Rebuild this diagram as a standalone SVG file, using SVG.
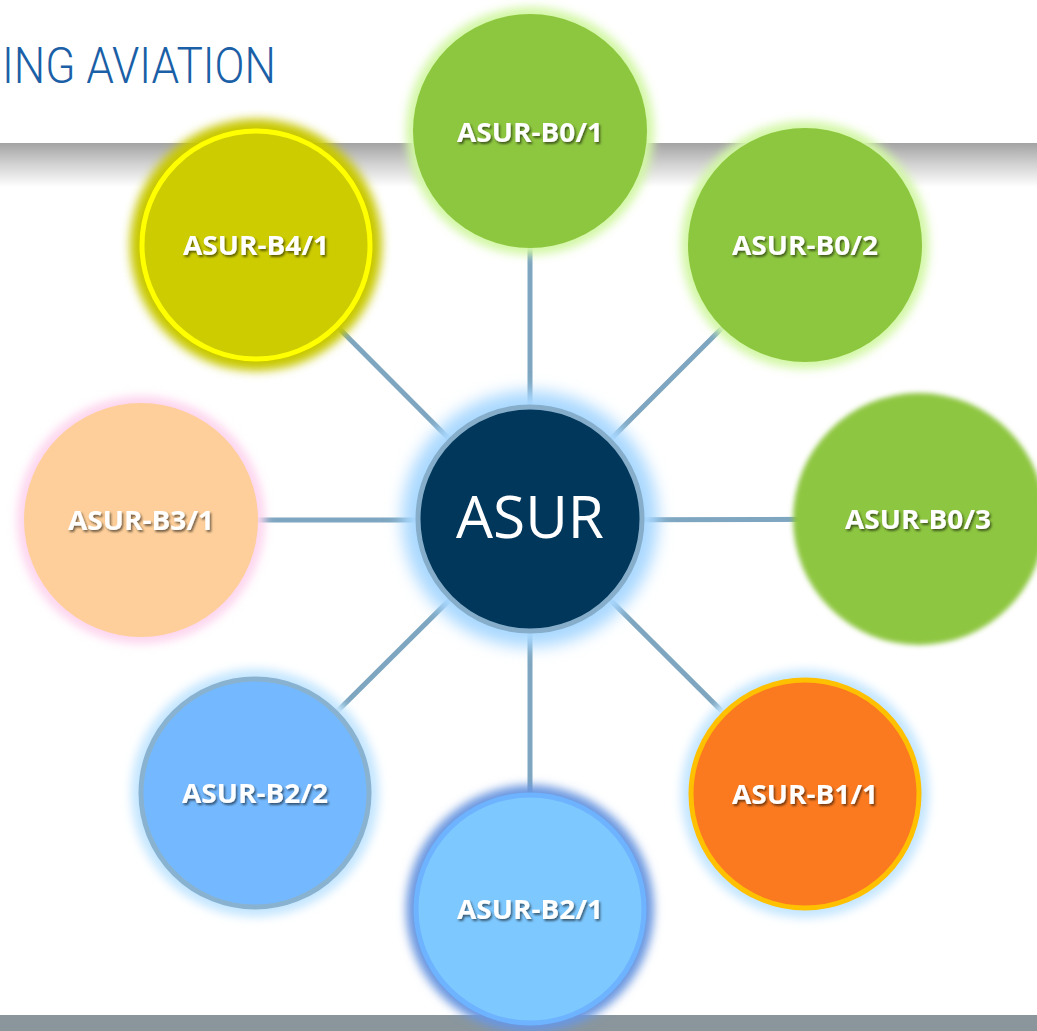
<svg xmlns="http://www.w3.org/2000/svg" width="1037" height="1031" viewBox="0 0 1037 1031">
  <defs>
    <linearGradient id="band" x1="0" y1="0" x2="0" y2="1">
      <stop offset="0" stop-color="#a3a3a3"/>
      <stop offset="0.45" stop-color="#cfcfcf"/>
      <stop offset="1" stop-color="#ffffff"/>
    </linearGradient>
    <filter id="glow" x="-30%" y="-30%" width="160%" height="160%">
      <feGaussianBlur stdDeviation="5"/>
    </filter>
    <filter id="glow2" x="-30%" y="-30%" width="160%" height="160%">
      <feGaussianBlur stdDeviation="8"/>
    </filter>
    <filter id="soft" x="-10%" y="-10%" width="120%" height="120%">
      <feGaussianBlur stdDeviation="2.5"/>
    </filter>
    <filter id="tshadow" x="-10%" y="-30%" width="120%" height="160%">
      <feDropShadow dx="1.5" dy="2" stdDeviation="1.2" flood-color="#000" flood-opacity="0.55"/>
    </filter>
  </defs>
  <style>
    .lbl { font-family: "Open Sans", "Liberation Sans", sans-serif; font-weight: 700; font-size: 26px; fill: #ffffff; text-anchor: middle; filter: url(#tshadow); }
    .conn { stroke: #7ea6c0; stroke-width: 5; fill: none; }
  </style>

  <rect x="0" y="0" width="1037" height="1031" fill="#ffffff"/>
  <rect x="0" y="143" width="1037" height="44" fill="url(#band)"/>
  <rect x="0" y="1015" width="1037" height="16" fill="#8a969c"/>
  <text x="2" y="83" font-family="Roboto, 'Liberation Sans', sans-serif" font-weight="300" font-size="50" fill="#1b5fa7" textLength="274" lengthAdjust="spacingAndGlyphs">ING AVIATION</text>

  <g id="connectors">
    <line class="conn" x1="530" y1="520" x2="530" y2="131"/>
    <line class="conn" x1="530" y1="520" x2="805" y2="245"/>
    <line class="conn" x1="530" y1="520" x2="918" y2="519"/>
    <line class="conn" x1="530" y1="520" x2="805" y2="794"/>
    <line class="conn" x1="530" y1="520" x2="530" y2="909"/>
    <line class="conn" x1="530" y1="520" x2="255" y2="793"/>
    <line class="conn" x1="530" y1="520" x2="141" y2="520"/>
    <line class="conn" x1="530" y1="520" x2="256" y2="245"/>
  </g>

  <g id="asur">
    <circle cx="530" cy="519" r="128" fill="#a9d8ff" filter="url(#glow2)"/>
    <circle cx="530" cy="519" r="112" fill="#00375a" stroke="#86aecb" stroke-width="5"/>
    <text x="530" y="538" font-family="'Open Sans', 'Liberation Sans', sans-serif" font-size="58" fill="#ffffff" text-anchor="middle" textLength="148" lengthAdjust="spacingAndGlyphs">ASUR</text>
  </g>

  <g id="b01">
    <circle cx="530" cy="131" r="124" fill="#d2f7a4" filter="url(#glow)"/>
    <circle cx="530" cy="131" r="117" fill="#8dc63f"/>
    <text class="lbl" x="530" y="142" textLength="146" lengthAdjust="spacingAndGlyphs">ASUR-B0/1</text>
  </g>

  <g id="b02">
    <circle cx="805" cy="245" r="124" fill="#d2f7a4" filter="url(#glow)"/>
    <circle cx="805" cy="245" r="117" fill="#8dc63f"/>
    <text class="lbl" x="805" y="255" textLength="146" lengthAdjust="spacingAndGlyphs">ASUR-B0/2</text>
  </g>

  <g id="b03">
    <circle cx="919" cy="519" r="126" fill="#8dc63f" filter="url(#soft)"/>
    <text class="lbl" x="918" y="529" textLength="146" lengthAdjust="spacingAndGlyphs">ASUR-B0/3</text>
  </g>

  <g id="b11">
    <circle cx="805" cy="794" r="124" fill="#c4e6ff" filter="url(#glow)"/>
    <circle cx="805" cy="794" r="114" fill="#fb7a20" stroke="#ffc000" stroke-width="5"/>
    <text class="lbl" x="805" y="804" textLength="146" lengthAdjust="spacingAndGlyphs">ASUR-B1/1</text>
  </g>

  <g id="b21">
    <circle cx="530" cy="909" r="124" fill="#6b97e0" filter="url(#glow)"/>
    <circle cx="530" cy="909" r="114" fill="#7dc8ff" stroke="#6db3ff" stroke-width="5"/>
    <text class="lbl" x="530" y="919" textLength="146" lengthAdjust="spacingAndGlyphs">ASUR-B2/1</text>
  </g>

  <g id="b22">
    <circle cx="255" cy="793" r="124" fill="#c4e6ff" filter="url(#glow)"/>
    <circle cx="255" cy="793" r="114" fill="#74b9ff" stroke="#88b2d0" stroke-width="5"/>
    <text class="lbl" x="255" y="803" textLength="146" lengthAdjust="spacingAndGlyphs">ASUR-B2/2</text>
  </g>

  <g id="b31">
    <circle cx="141" cy="520" r="124" fill="#fdd5ee" filter="url(#glow)"/>
    <circle cx="141" cy="520" r="117" fill="#fecf9a"/>
    <text class="lbl" x="141" y="530" textLength="146" lengthAdjust="spacingAndGlyphs">ASUR-B3/1</text>
  </g>

  <g id="b41">
    <circle cx="256" cy="245" r="126" fill="#c8c800" filter="url(#glow)"/>
    <circle cx="256" cy="245" r="114" fill="#cccc00" stroke="#ffff00" stroke-width="5"/>
    <text class="lbl" x="256" y="255" textLength="146" lengthAdjust="spacingAndGlyphs">ASUR-B4/1</text>
  </g>
</svg>
